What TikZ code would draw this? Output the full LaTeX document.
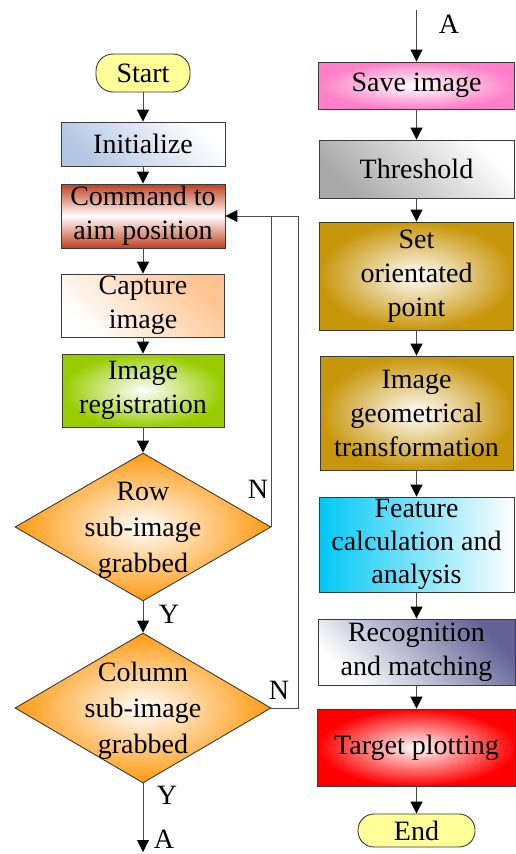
\documentclass[tikz,border=0pt]{standalone}
\usepackage{fontspec}
\setmainfont{Liberation Serif}
\usetikzlibrary{shapes.geometric,arrows.meta}
\definecolor{boxline}{HTML}{3A3A3A}
\definecolor{linegray}{HTML}{4A4A4A}
\definecolor{termfill}{HTML}{FFFF99}
\definecolor{initblue}{HTML}{B4C6E4}
\definecolor{cmdred}{HTML}{C0401C}
\definecolor{peach}{HTML}{FFC490}
\definecolor{regreen}{HTML}{99CC00}
\definecolor{dorange}{HTML}{FF9A10}
\definecolor{pinkc}{HTML}{FF80C8}
\definecolor{grayc}{HTML}{A8A8A8}
\definecolor{goldc}{HTML}{C8960A}
\definecolor{cyanc}{HTML}{00C8F4}
\definecolor{slatec}{HTML}{626296}
\definecolor{redc}{HTML}{FF0000}
\begin{document}
\begin{tikzpicture}[x=1pt,y=-1pt,
  txt/.style={font=\fontsize{28}{34}\selectfont},
  box/.style={txt, draw=boxline, line width=0.9pt, inner sep=0pt, align=center},
  term/.style={box, rounded corners=17pt, fill=termfill},
  dia/.style={diamond, draw=boxline, line width=0.9pt, inner sep=0pt, shading=radial, inner color=white, outer color=dorange},
  dtxt/.style={font=\fontsize{28}{36}\selectfont, align=center, inner sep=0pt},
  lab/.style={txt, inner sep=0pt},
  arr/.style={draw=linegray, line width=1pt, -{Triangle[width=12pt,length=12pt,color=black]}},
  ln/.style={draw=linegray, line width=1pt}
]
\useasboundingbox (0,0) rectangle (516,854);

% left column
\node[term, minimum width=94, minimum height=38] (start) at (143,73) {Start};
\node[box, minimum width=164, minimum height=44, bottom color=initblue, top color=white, shading angle=-45] (init) at (143,144) {Initialize};
\node[box, minimum width=164, minimum height=64, top color=cmdred, bottom color=cmdred, middle color=white] (cmd) at (143,216) {Command to\\aim position};
\node[box, minimum width=163, minimum height=63, bottom color=white, top color=peach, shading angle=-45] (cap) at (143,305.5) {Capture\\image};
\node[box, minimum width=162, minimum height=73, shading=radial, inner color=white, outer color=regreen] (reg) at (143,390.5) {Image\\registration};
\node[dia, minimum width=256, minimum height=148] (row) at (143,527) {};
\node[dtxt] (rowt) at (143,530) {Row\\sub-image\\grabbed};
\node[dia, minimum width=256, minimum height=150] (col) at (143,708) {};
\node[dtxt] (colt) at (143,711) {Column\\sub-image\\grabbed};

\draw[arr] (start) -- (init);
\draw[arr] (init) -- (cmd);
\draw[arr] (cmd) -- (cap);
\draw[arr] (cap) -- (reg);
\draw[arr] (reg) -- (row);
\draw[arr] (row) -- (col);
\coordinate (aout) at (143,852);
\draw[arr] (col) -- (aout);
\coordinate (loopc) at (298,708);
\draw[arr] (col.east) -- (loopc) |- (cmd.east);
\draw[ln] (row.east) -- (row.east |- cmd.east);

\node[lab] (y1) at (169,614) {Y};
\node[lab] (y2) at (167,795) {Y};
\node[lab] (n1) at (258,489) {N};
\node[lab] (n2) at (279,690) {N};
\node[lab] (a1) at (164,839) {A};

% right column
\coordinate (ain) at (416.5,10);
\node[lab] (a2) at (449,24) {A};
\node[box, minimum width=196, minimum height=47, shading=radial, inner color=white, outer color=pinkc] (save) at (416.5,85.5) {Save image};
\node[box, minimum width=195, minimum height=58, bottom color=grayc, top color=white, shading angle=-45] (thr) at (416.5,169) {Threshold};
\node[box, minimum width=194, minimum height=108, shading=radial, inner color=white, outer color=goldc] (set) at (416.5,276) {Set\\orientated\\point};
\node[box, minimum width=193, minimum height=114, shading=radial, inner color=white, outer color=goldc] (geo) at (416.5,413) {Image\\geometrical\\transformation};
\node[box, minimum width=195, minimum height=95, left color=cyanc, right color=white, font=\fontsize{28}{33}\selectfont] (feat) at (416.5,544.5) {Feature\\calculation and\\analysis};
\node[box, minimum width=197, minimum height=66, bottom color=white, top color=slatec, shading angle=-45] (rec) at (416.5,652) {Recognition\\and matching};
\node[box, minimum width=198, minimum height=77, shading=radial, inner color=white, outer color=redc] (tgt) at (416.5,747.5) {Target plotting};
\node[term, minimum width=117, minimum height=33, rounded corners=16pt] (end) at (416.5,830.5) {End};

\draw[arr] (ain) -- (save);
\draw[arr] (save) -- (thr);
\draw[arr] (thr) -- (set);
\draw[arr] (set) -- (geo);
\draw[arr] (geo) -- (feat);
\draw[arr] (feat) -- (rec);
\draw[arr] (rec) -- (tgt);
\draw[arr] (tgt) -- (end);
\end{tikzpicture}
\end{document}
